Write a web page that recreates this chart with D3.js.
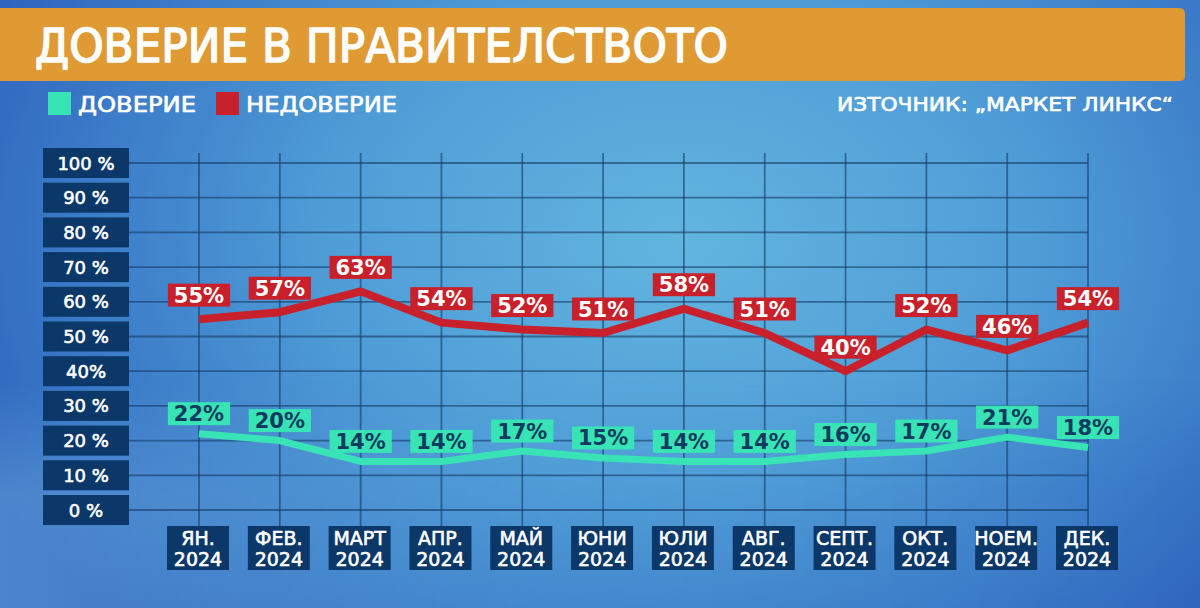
<!DOCTYPE html>
<html>
<head>
<meta charset="utf-8">
<script src="https://cdn.jsdelivr.net/npm/d3@7/dist/d3.min.js"></script>
<style>
  html, body { margin: 0; padding: 0; background: #3a80c8; }
  svg { display: block; }
</style>
</head>
<body>
<svg id="chart" width="1200" height="608"></svg>
<script>
// ---- data ----
const months = ["ЯН.", "ФЕВ.", "МАРТ", "АПР.", "МАЙ", "ЮНИ", "ЮЛИ", "АВГ.", "СЕПТ.", "ОКТ.", "НОЕМ.", "ДЕК."];
const year = "2024";
const trust = [22, 20, 14, 14, 17, 15, 14, 14, 16, 17, 21, 18];
const distrust = [55, 57, 63, 54, 52, 51, 58, 51, 40, 52, 46, 54];
const yTicks = [0, 10, 20, 30, 40, 50, 60, 70, 80, 90, 100];
const yTickLabels = ["0 %", "10 %", "20 %", "30 %", "40%", "50 %", "60 %", "70 %", "80 %", "90 %", "100 %"];
const title = "ДОВЕРИЕ В ПРАВИТЕЛСТВОТО";
const legendNames = ["ДОВЕРИЕ", "НЕДОВЕРИЕ"];
const source = "ИЗТОЧНИК: „МАРКЕТ ЛИНКС“";

// ---- styles ----
const C = {
  orange: "#e09a34",
  navy: "#0b3868",
  red: "#c8212b",
  teal: "#38e3b5",
  tealText: "#103a5e",
  grid: "rgba(22,58,100,0.6)"
};
const FONT = "'DejaVu Sans', sans-serif";

const svg = d3.select("#chart");
const W = 1200, H = 608;

function medium(sel, color, w) {
  return sel.attr("stroke", color).attr("stroke-width", w).attr("stroke-linejoin", "round").attr("paint-order", "stroke");
}

// background
const defs = svg.append("defs");
const rg = defs.append("radialGradient").attr("id", "bg")
  .attr("gradientUnits", "userSpaceOnUse")
  .attr("cx", 680).attr("cy", 240).attr("r", 780)
  .attr("gradientTransform", "translate(680,240) scale(1,0.7) translate(-680,-240)");
rg.append("stop").attr("offset", "0").attr("stop-color", "#62b5df");
rg.append("stop").attr("offset", "0.45").attr("stop-color", "#4f9dd7");
rg.append("stop").attr("offset", "1").attr("stop-color", "#2d62bd");
svg.append("rect").attr("width", W).attr("height", H).attr("fill", "url(#bg)");

const lg = defs.append("linearGradient").attr("id", "bottomglow").attr("x1", 0).attr("y1", 0).attr("x2", 1).attr("y2", 0);
lg.append("stop").attr("offset", "0").attr("stop-color", "#86c6ea").attr("stop-opacity", 0.35);
lg.append("stop").attr("offset", "0.5").attr("stop-color", "#5aa6dc").attr("stop-opacity", 0.12);
lg.append("stop").attr("offset", "1").attr("stop-color", "#2a60bb").attr("stop-opacity", 0.2);
const vfade = defs.append("linearGradient").attr("id", "vfade").attr("x1", 0).attr("y1", 0).attr("x2", 0).attr("y2", 1);
vfade.append("stop").attr("offset", "0").attr("stop-color", "#fff").attr("stop-opacity", 0);
vfade.append("stop").attr("offset", "0.5").attr("stop-color", "#fff").attr("stop-opacity", 1);
vfade.append("stop").attr("offset", "1").attr("stop-color", "#fff").attr("stop-opacity", 1);
defs.append("mask").attr("id", "fademask").append("rect")
  .attr("x", 0).attr("y", 380).attr("width", W).attr("height", 228).attr("fill", "url(#vfade)");
svg.append("rect").attr("x", 0).attr("y", 380).attr("width", W).attr("height", 228)
  .attr("fill", "url(#bottomglow)").attr("mask", "url(#fademask)");

// title bar
svg.append("path")
  .attr("d", "M0,8 H1179 Q1185,8 1185,14 V76 Q1185,81 1179,81 H0 Z")
  .attr("fill", C.orange);
medium(svg.append("text")
  .attr("x", 35).attr("y", 62)
  .attr("font-family", FONT).attr("font-size", 47)
  .attr("fill", "#fff")
  .attr("textLength", 693).attr("lengthAdjust", "spacingAndGlyphs")
  .text(title), "#fff", 1.6);

// legend
const legendColors = [C.teal, C.red];
const legendX = [48, 216];
const legendW = [118, 151];
legendNames.forEach((n, i) => {
  svg.append("rect").attr("x", legendX[i]).attr("y", 92).attr("width", 23).attr("height", 23).attr("fill", legendColors[i]);
  medium(svg.append("text").attr("x", legendX[i] + 30).attr("y", 112)
    .attr("font-family", FONT).attr("font-size", 22).attr("fill", "#fff")
    .attr("textLength", legendW[i]).attr("lengthAdjust", "spacingAndGlyphs")
    .text(n), "#fff", 0.7);
});
medium(svg.append("text").attr("x", 1173).attr("y", 111)
  .attr("text-anchor", "end")
  .attr("font-family", FONT).attr("font-size", 20).attr("fill", "#fff")
  .attr("textLength", 336).attr("lengthAdjust", "spacingAndGlyphs")
  .text(source), "#fff", 0.7);

// scales
const x = d3.scalePoint().domain(months).range([199, 1088]);
const y = d3.scaleLinear().domain([0, 100]).range([510, 163]);

// grid
const grid = svg.append("g");
grid.selectAll("line.h").data(yTicks).join("line")
  .attr("x1", 129).attr("x2", 1088)
  .attr("y1", d => y(d)).attr("y2", d => y(d))
  .attr("stroke", C.grid).attr("stroke-width", 1.8);
grid.selectAll("line.v").data(months).join("line")
  .attr("x1", d => x(d)).attr("x2", d => x(d))
  .attr("y1", 153).attr("y2", 526)
  .attr("stroke", C.grid).attr("stroke-width", 1.8);

// y axis labels (boxes)
const yAxis = svg.append("g");
yTicks.forEach((t, i) => {
  yAxis.append("rect").attr("x", 43).attr("y", y(t) - 15).attr("width", 86).attr("height", 30).attr("fill", C.navy);
  medium(yAxis.append("text").attr("x", 86).attr("y", y(t) + 6.5)
    .attr("text-anchor", "middle")
    .attr("font-family", FONT).attr("font-size", 18).attr("fill", "#fff")
    .text(yTickLabels[i]), "#fff", 0.6);
});

// x axis labels (boxes)
const xAxis = svg.append("g");
months.forEach(m => {
  const cx = x(m) - 1;
  xAxis.append("rect").attr("x", cx - 31).attr("y", 526).attr("width", 62).attr("height", 44).attr("fill", C.navy);
  medium(xAxis.append("text").attr("x", cx).attr("y", 545)
    .attr("text-anchor", "middle")
    .attr("font-family", FONT).attr("font-size", 19).attr("fill", "#fff")
    .text(m), "#fff", 0.6);
  medium(xAxis.append("text").attr("x", cx).attr("y", 566)
    .attr("text-anchor", "middle")
    .attr("font-family", FONT).attr("font-size", 19).attr("fill", "#fff")
    .text(year), "#fff", 0.6);
});

// lines
const line = d3.line().x((d, i) => x(months[i])).y(d => y(d)).curve(d3.curveLinear);
svg.append("path").datum(distrust).attr("d", line)
  .attr("fill", "none").attr("stroke", C.red).attr("stroke-width", 8).attr("stroke-linejoin", "round");
svg.append("path").datum(trust).attr("d", line)
  .attr("fill", "none").attr("stroke", C.teal).attr("stroke-width", 7).attr("stroke-linejoin", "round");

// value labels
function labels(series, lift, boxColor, textColor) {
  const g = svg.append("g");
  series.forEach((v, i) => {
    const cx = x(months[i]), cy = y(v) - lift;
    const t = g.append("text").attr("x", cx).attr("y", cy + 7.5)
      .attr("text-anchor", "middle")
      .attr("font-family", FONT).attr("font-size", 21).attr("font-weight", "bold")
      .attr("fill", textColor)
      .text(v + "%");
    const w = t.node().getComputedTextLength() + 12;
    g.insert("rect", "text").attr("x", cx - w / 2).attr("y", cy - 11.5).attr("width", w).attr("height", 23).attr("fill", boxColor);
  });
}
labels(distrust, 24, C.red, "#fff");
labels(trust, 20, C.teal, C.tealText);
</script>
</body>
</html>
